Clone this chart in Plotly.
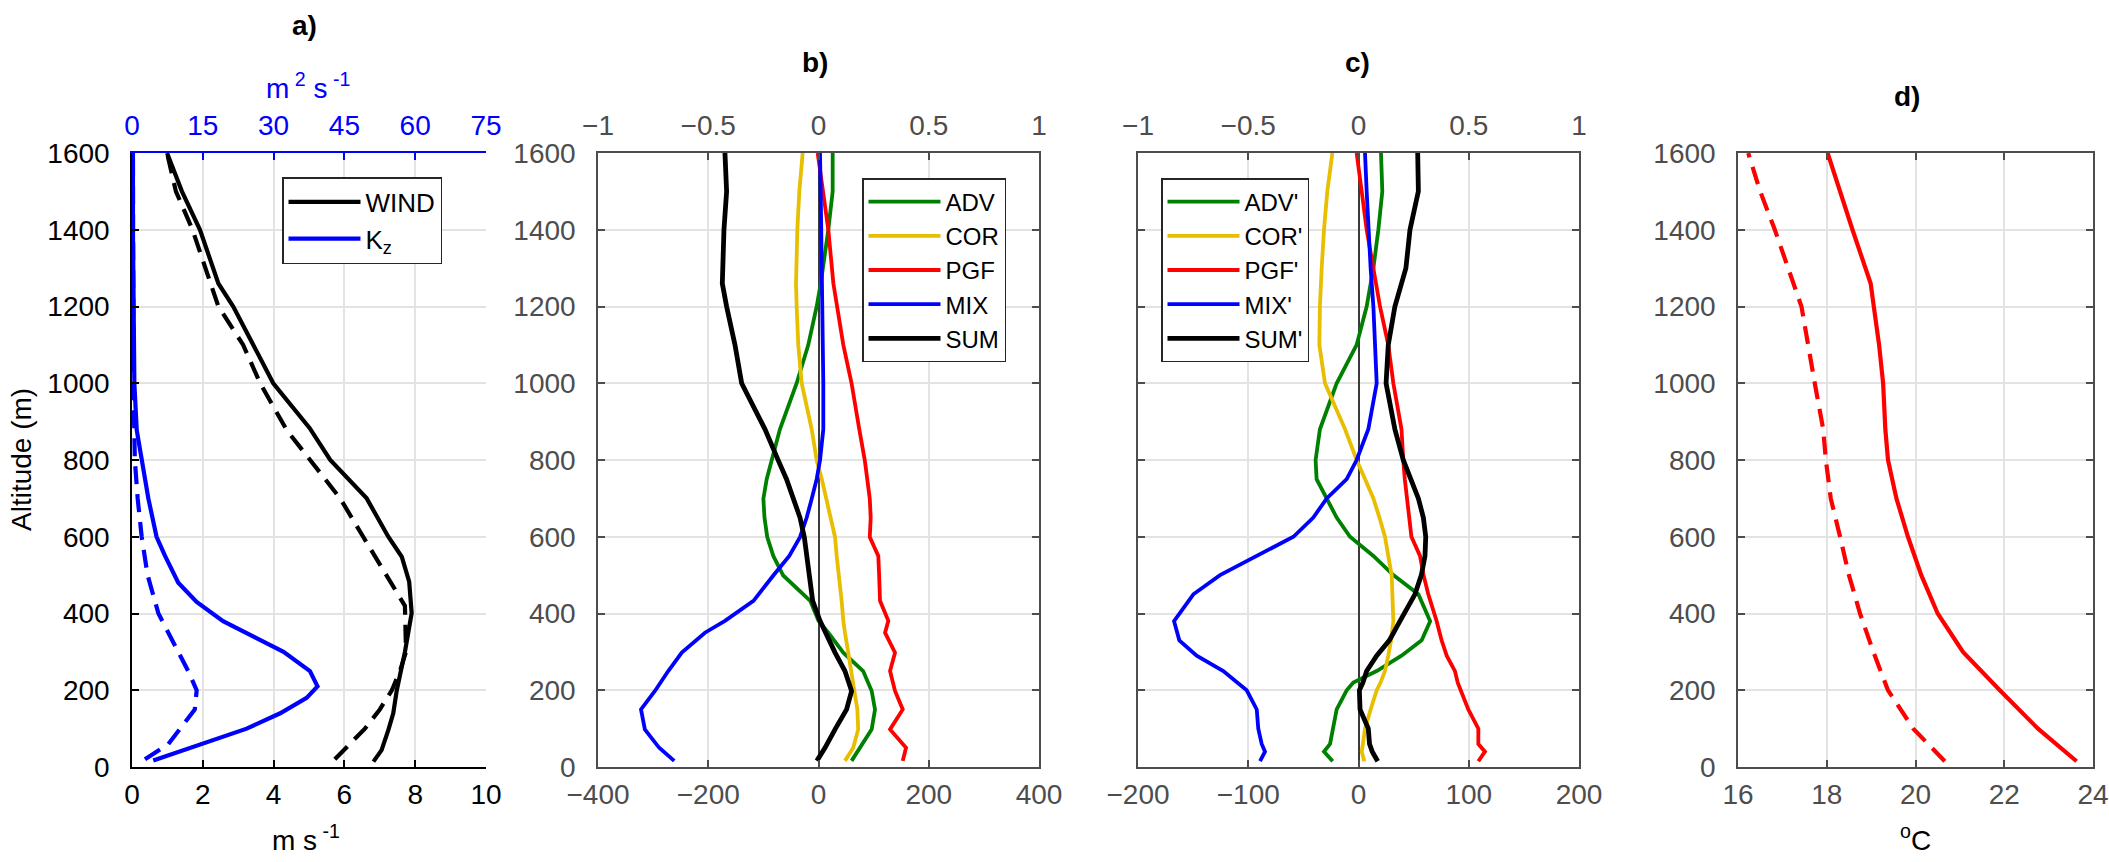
import plotly.graph_objects as go

# ---------------- data ----------------
# Panel a: wind speed (m s-1) and Kz (m2 s-1)
alt_wind = [14, 44, 96, 140, 200, 300, 401, 483, 548, 600, 700, 800, 883, 1000, 1200, 1260, 1400, 1500, 1600]
wind_solid = [6.82, 7.05, 7.24, 7.38, 7.48, 7.71, 7.90, 7.83, 7.62, 7.24, 6.63, 5.60, 5.02, 3.99, 2.86, 2.44, 1.92, 1.41, 0.99]
alt_wind_d = [20, 60, 100, 150, 200, 250, 300, 420, 500, 600, 700, 800, 878, 1000, 1100, 1200, 1300, 1400, 1500, 1600]
wind_dash = [5.73, 6.16, 6.58, 7.00, 7.34, 7.57, 7.74, 7.71, 7.20, 6.53, 5.88, 5.03, 4.37, 3.62, 3.14, 2.44, 2.06, 1.71, 1.24, 0.99]

alt_kz = [17, 60, 100, 140, 180, 210, 250, 300, 380, 430, 480, 550, 600, 700, 800, 878, 1000, 1200, 1400, 1600]
kz_solid = [4.5, 15.1, 24.3, 31.4, 37.0, 39.3, 37.7, 32.1, 19.3, 13.7, 9.8, 7.0, 5.2, 3.46, 2.05, 1.0, 0.5, 0.3, 0.2, 0.2]
alt_kz_d = [20, 60, 100, 150, 200, 250, 300, 400, 500, 600, 700, 800, 1000, 1200, 1400, 1600]
kz_dash = [2.75, 7.7, 10.2, 13.3, 13.7, 11.9, 9.8, 5.6, 3.3, 2.05, 1.2, 0.6, 0.3, 0.2, 0.2, 0.2]

# Panel b: momentum budget terms
alt_b = [16, 50, 98, 150, 198, 250, 298, 350, 381, 433, 499, 550, 599, 650, 699, 750, 799, 880, 1000, 1100, 1200, 1260, 1400, 1500, 1600]
adv_b = [60, 75, 96.5, 102.5, 96.5, 81, 45, 17.8, 0, -15, -64, -82, -93, -98, -100, -94, -85, -70, -39.6, -18.5, -3.3, 4, 17.8, 25.7, 25.7]
cor_b = [48, 63, 72, 70.5, 65, 60, 54, 48, 45, 42, 36, 33, 30, 22, 14.8, 6, -3.3, -12.3, -30.5, -36.7, -39.6, -40.8, -38.4, -34.8, -28.7]
pgf_b = [152.8, 158.8, 129.8, 152.8, 138.8, 129.8, 138.8, 120.7, 126.7, 111.6, 110, 108.5, 93, 94.7, 93, 88, 84, 74, 60, 45, 33, 27, 17.8, 8.7, -1.5]
mix_b = [-261.7, -289, -315, -322, -296.7, -272.6, -248, -206, -169.7, -118, -82, -53, -33.6, -21.4, -12.3, -3.3, 2.7, 8.7, 8.7, 8.0, 7.6, 7.0, 5.7, 4.0, 2.7]
sum_b = [-3, 11.8, 30, 51, 60, 48, 30, 12, 2.7, -10.6, -17.2, -22, -25.7, -33.6, -45.7, -58, -73, -97, -139.4, -151.5, -166.7, -174.5, -171.5, -166.7, -169.7]

# Panel c: primed terms
alt_c = [15, 40, 60, 100, 150, 200, 220, 250, 290, 330, 380, 450, 500, 550, 600, 650, 700, 750, 800, 880, 1000, 1100, 1200, 1300, 1400, 1500, 1600]
adv_c = [-23.4, -31.3, -25.8, -22.8, -19.8, -10.7, -4.7, 16.5, 39, 57.3, 65, 54.3, 31.6, 13.5, -7.7, -19.8, -28.8, -38, -38.9, -35, -19.8, -1.7, 7.4, 13.5, 18, 21.6, 20.4]
cor_c = [5.3, 2.9, 4.0, 5.9, 11, 16.5, 20, 24, 27, 29.5, 31.6, 31, 30.1, 27, 24, 19, 13.5, 6, -1.7, -12.2, -30.4, -35.5, -35, -33.4, -31.3, -28.3, -23.7]
pgf_c = [108.7, 114.7, 108.7, 108.7, 99.6, 93, 90, 87.5, 80, 75.4, 70.9, 63.3, 59, 55.8, 48, 46, 43.7, 42, 40.6, 39, 31.6, 27, 19.5, 13.5, 7.4, 2.9, -1.7]
mix_c = [-89.3, -84.8, -87.8, -90.9, -92.3, -101.4, -110, -122.6, -146.8, -162.5, -167.3, -149.8, -125.6, -92.3, -59, -41, -28.8, -10.7, -1.7, 8.9, 16.5, 15, 13.5, 11, 8.9, 7.4, 5.9]
sum_c = [17.4, 12.5, 10, 8.9, 1.4, 0.8, 4, 7.4, 16.5, 28, 37.6, 51.2, 57, 60.3, 61, 58.8, 54.3, 47, 40.6, 33, 25, 27, 33, 43, 46.7, 54.3, 53.7]

# Panel d: temperature (deg C)
alt_t = [15, 100, 200, 300, 400, 500, 600, 700, 800, 880, 1000, 1100, 1200, 1260, 1400, 1500, 1600]
temp_solid = [23.63, 22.76, 21.90, 21.07, 20.50, 20.13, 19.83, 19.57, 19.38, 19.32, 19.27, 19.18, 19.06, 18.99, 18.58, 18.30, 18.02]
temp_dash = [20.66, 19.95, 19.38, 19.05, 18.75, 18.50, 18.30, 18.09, 17.98, 17.92, 17.73, 17.58, 17.43, 17.25, 16.83, 16.50, 16.23]

wind_ticks = [0, 2, 4, 6, 8, 10]
kz_ticks = [0, 15, 30, 45, 60, 75]
alt_ticks = [0, 200, 400, 600, 800, 1000, 1200, 1400, 1600]
b_ticks = [-400, -200, 0, 200, 400]
c_ticks = [-200, -100, 0, 100, 200]
norm_ticks = [-1, -0.5, 0, 0.5, 1]
t_ticks = [16, 18, 20, 22, 24]

# ---------------- style ----------------
W, H = 2109, 862
FONT = "Liberation Sans, Arial, sans-serif"
GREEN, YELLOW, RED, BLUE, BLACK = "#008000", "#E8BE00", "#FF0000", "#0000FF", "#000000"
GRID = "#E3E3E3"
AX = "#4D4D4D"
TICKFS = 28

def px(x):
    return x / W

def py(y):
    return 1 - y / H

yd = [py(767), py(153)]
dom_a = [px(132), px(486)]
dom_b = [px(598), px(1039)]
dom_c = [px(1138), px(1579)]
dom_d = [px(1738), px(2093)]

fig = go.Figure()

LW = 4.2
LWB = 3.8
LWS = 4.8
DASH = "18px,10px"

# panel a
fig.add_trace(go.Scatter(x=wind_solid, y=alt_wind, mode="lines", name="WIND",
                         line=dict(color=BLACK, width=LW), xaxis="x", yaxis="y", legend="legend"))
fig.add_trace(go.Scatter(x=wind_dash, y=alt_wind_d, mode="lines", name="WIND (dashed)", showlegend=False,
                         line=dict(color=BLACK, width=LW, dash=DASH), xaxis="x", yaxis="y"))
fig.add_trace(go.Scatter(x=kz_solid, y=alt_kz, mode="lines", name="K<sub>z</sub>",
                         line=dict(color=BLUE, width=LW), xaxis="x2", yaxis="y", legend="legend"))
fig.add_trace(go.Scatter(x=kz_dash, y=alt_kz_d, mode="lines", name="Kz (dashed)", showlegend=False,
                         line=dict(color=BLUE, width=LW, dash=DASH), xaxis="x2", yaxis="y"))

# panel b
for nm, vals, col, w in [("ADV", adv_b, GREEN, LWB), ("COR", cor_b, YELLOW, LWB), ("PGF", pgf_b, RED, LWB),
                         ("MIX", mix_b, BLUE, LWB), ("SUM", sum_b, BLACK, LWS)]:
    fig.add_trace(go.Scatter(x=vals, y=alt_b, mode="lines", name=nm, line=dict(color=col, width=w),
                             xaxis="x3", yaxis="y2", legend="legend2"))

# panel c
for nm, vals, col, w in [("ADV'", adv_c, GREEN, LWB), ("COR'", cor_c, YELLOW, LWB), ("PGF'", pgf_c, RED, LWB),
                         ("MIX'", mix_c, BLUE, LWB), ("SUM'", sum_c, BLACK, LWS)]:
    fig.add_trace(go.Scatter(x=vals, y=alt_c, mode="lines", name=nm, line=dict(color=col, width=w),
                             xaxis="x5", yaxis="y3", legend="legend3"))

# panel d
fig.add_trace(go.Scatter(x=temp_solid, y=alt_t, mode="lines", name="T", showlegend=False,
                         line=dict(color=RED, width=LW), xaxis="x7", yaxis="y4"))
fig.add_trace(go.Scatter(x=temp_dash, y=alt_t, mode="lines", name="T (dashed)", showlegend=False,
                         line=dict(color=RED, width=LW, dash=DASH), xaxis="x7", yaxis="y4"))

# invisible traces so that the overlaid top axes get drawn
for xa in ["x4", "x6"]:
    fig.add_trace(go.Scatter(x=[-1, 1], y=[None, None], mode="lines", showlegend=False,
                             hoverinfo="skip", xaxis=xa, yaxis="y2" if xa == "x4" else "y3"))


def xax(dom, rng, ticks, anchor, color=AX, tickcolor=None, zeroline=False, mirror=True, side="bottom",
        overlaying=None, showgrid=True, standoff=2):
    d = dict(domain=dom, range=rng, tickmode="array", tickvals=ticks, ticks="inside", ticklen=7,
             tickwidth=1.5, tickcolor=color, linecolor=color, linewidth=1.5, showline=True,
             mirror="ticks" if mirror else False, showgrid=showgrid, gridcolor=GRID, gridwidth=1.5,
             zeroline=zeroline, zerolinecolor="#3A3A3A", zerolinewidth=1.5, automargin=False,
             ticklabelstandoff=standoff,
             tickfont=dict(size=TICKFS, color=tickcolor or color, family=FONT), anchor=anchor, side=side,
             fixedrange=True)
    if overlaying:
        d["overlaying"] = overlaying
    return d


def yax(color=AX, tickcolor=None, mirror=True):
    return dict(domain=yd, range=[0, 1600], tickmode="array", tickvals=alt_ticks, ticks="inside", ticklen=7,
                tickwidth=1.5, tickcolor=color, linecolor=color, linewidth=1.5, showline=True,
                mirror="ticks" if mirror else False, showgrid=True, gridcolor=GRID, gridwidth=1.5,
                zeroline=False, automargin=False, ticklabelstandoff=15,
                tickfont=dict(size=TICKFS, color=tickcolor or color, family=FONT),
                fixedrange=True)

layout = dict(
    width=W, height=H, margin=dict(l=0, r=0, t=0, b=0, autoexpand=False),
    paper_bgcolor="white", plot_bgcolor="white",
    font=dict(family=FONT, size=TICKFS, color="black"),
    # panel a
    xaxis=xax(dom_a, [0, 10], wind_ticks, "y", color="#000000", mirror=False),
    xaxis2=xax(dom_a, [0, 75], kz_ticks, "y", color=BLUE, side="top", overlaying="x", mirror=False,
               showgrid=False, standoff=5),
    yaxis=dict(yax(color="#000000", mirror=False), anchor="x"),
    yaxis5=dict(yax(color=BLUE, mirror=False), anchor="x", overlaying="y", side="right",
                showticklabels=False, showgrid=False),
    # panel b
    xaxis3=xax(dom_b, [-400, 400], b_ticks, "y2", zeroline=True),
    xaxis4=xax(dom_b, [-1, 1], norm_ticks, "y2", side="top", overlaying="x3", showgrid=False, mirror=False,
               standoff=5),
    yaxis2=dict(yax(), anchor="x3"),
    # panel c
    xaxis5=xax(dom_c, [-200, 200], c_ticks, "y3", zeroline=True),
    xaxis6=xax(dom_c, [-1, 1], norm_ticks, "y3", side="top", overlaying="x5", showgrid=False, mirror=False,
               standoff=5),
    yaxis3=dict(yax(), anchor="x5", showticklabels=False),
    # panel d
    xaxis7=xax(dom_d, [16, 24], t_ticks, "y4"),
    yaxis4=dict(yax(), anchor="x7"),
)

leg_common = dict(bgcolor="white", bordercolor="#262626", borderwidth=1.5,
                  font=dict(size=24, family=FONT, color="black"), itemwidth=72,
                  xanchor="left", yanchor="top", tracegroupgap=0)
layout["legend"] = dict(leg_common, x=px(282), y=py(177), font=dict(size=26, family=FONT, color="black"))
layout["legend2"] = dict(leg_common, x=px(862), y=py(178))
layout["legend3"] = dict(leg_common, x=px(1161), y=py(178))

fig.update_layout(**layout)

ann = [
    dict(text="<b>a)</b>", x=px(304), y=py(25)),
    dict(text="<b>b)</b>", x=px(815), y=py(62)),
    dict(text="<b>c)</b>", x=px(1357), y=py(62)),
    dict(text="<b>d)</b>", x=px(1907), y=py(97)),
    dict(text="m s<sup> -1</sup>", x=px(306), y=py(838)),
    dict(text="<sup>o</sup>C", x=px(1915), y=py(838)),
    dict(text="m<sup> 2</sup> s<sup> -1</sup>", x=px(308), y=py(86), font=dict(color=BLUE, size=TICKFS, family=FONT)),
    dict(text="Altitude (m)", x=px(22), y=py(460), textangle=-90),
]
for a in ann:
    d = dict(xref="paper", yref="paper", showarrow=False, xanchor="center", yanchor="middle",
             font=dict(size=TICKFS, color="black", family=FONT))
    d.update(a)
    fig.add_annotation(**d)

fig.write_html("out.html")
